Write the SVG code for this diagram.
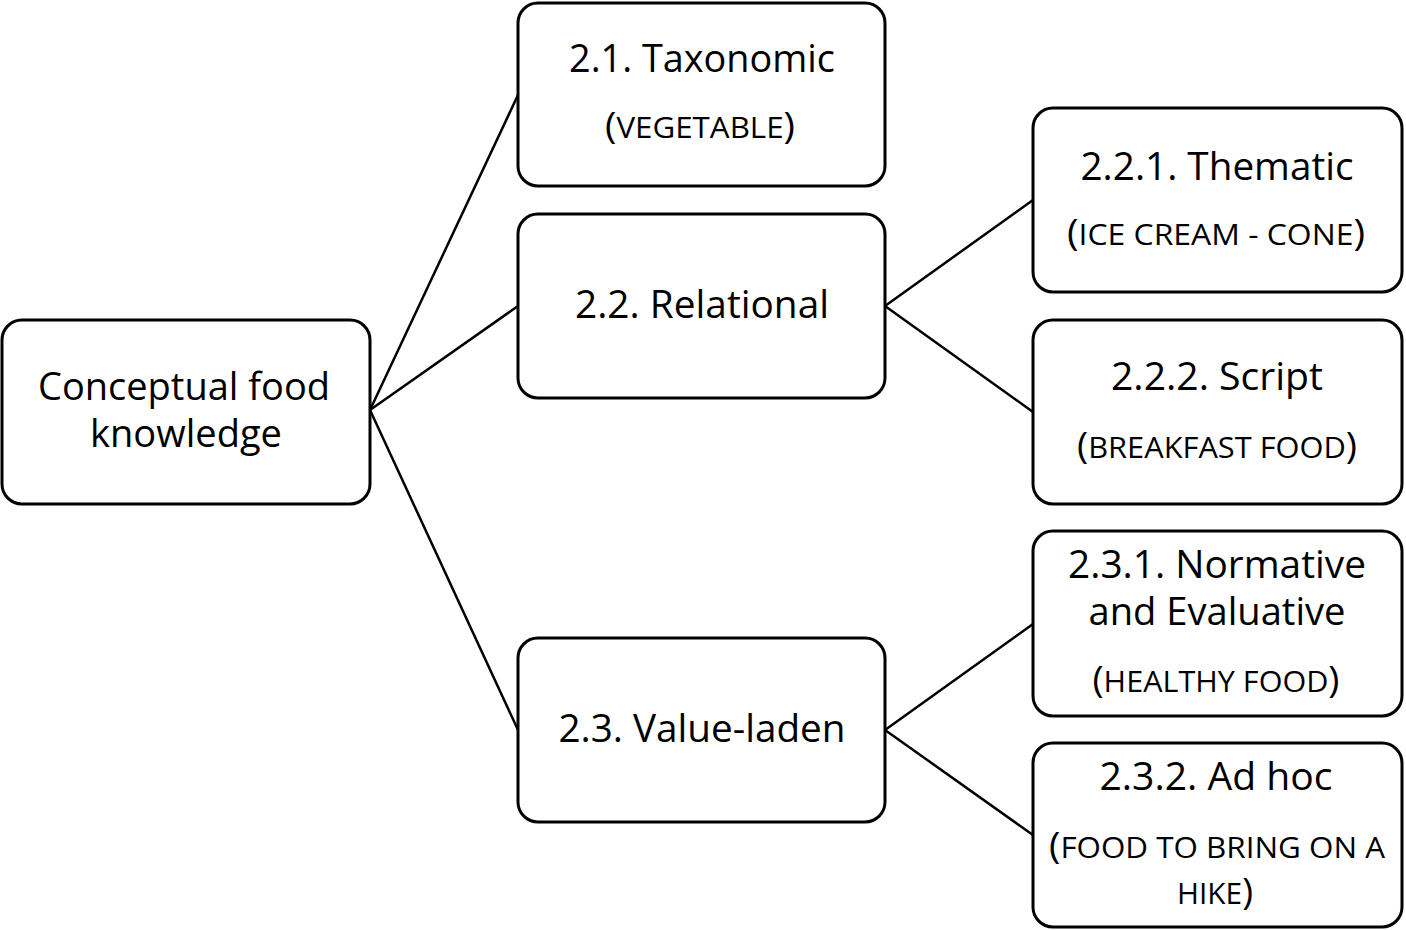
<svg xmlns="http://www.w3.org/2000/svg" width="1406" height="930" viewBox="0 0 1406 930">
<style>
.box{fill:#fff;stroke:#000;stroke-width:3}
.ln{stroke:#000;stroke-width:2.5;fill:none}
text{font-family:"Open Sans","Noto Sans","Liberation Sans",sans-serif;fill:#000;text-anchor:middle}
.t{font-size:38px}
.s{font-size:30px}
.p{font-size:37px}
</style>
<rect width="1406" height="930" fill="#fff"/>
<g id="connectors">
<line class="ln" x1="370" y1="410" x2="518" y2="95"/>
<line class="ln" x1="370" y1="410" x2="518" y2="306"/>
<line class="ln" x1="370" y1="410" x2="518" y2="730"/>
<line class="ln" x1="885" y1="306" x2="1033" y2="200"/>
<line class="ln" x1="885" y1="306" x2="1033" y2="412"/>
<line class="ln" x1="885" y1="730" x2="1033" y2="624"/>
<line class="ln" x1="885" y1="730" x2="1033" y2="835"/>
</g>
<g id="root">
<rect class="box" x="2" y="320" width="368" height="184" rx="20"/>
<text class="t" x="184" y="400" textLength="292" lengthAdjust="spacingAndGlyphs">Conceptual food</text>
<text class="t" x="186" y="447" textLength="192" lengthAdjust="spacingAndGlyphs">knowledge</text>
</g>
<g id="n21">
<rect class="box" x="518" y="3" width="367" height="183" rx="20"/>
<text class="t" x="702" y="72" textLength="266" lengthAdjust="spacingAndGlyphs">2.1. Taxonomic</text>
<text class="s" x="700" y="138" textLength="190" lengthAdjust="spacingAndGlyphs"><tspan class="p">(</tspan>VEGETABLE<tspan class="p">)</tspan></text>
</g>
<g id="n22">
<rect class="box" x="518" y="214" width="367" height="184" rx="20"/>
<text class="t" x="702" y="318" textLength="254" lengthAdjust="spacingAndGlyphs">2.2. Relational</text>
</g>
<g id="n23">
<rect class="box" x="518" y="638" width="367" height="184" rx="20"/>
<text class="t" x="702" y="742" textLength="287" lengthAdjust="spacingAndGlyphs">2.3. Value-laden</text>
</g>
<g id="n221">
<rect class="box" x="1033" y="108" width="369" height="184" rx="20"/>
<text class="t" x="1217" y="180" textLength="273" lengthAdjust="spacingAndGlyphs">2.2.1. Thematic</text>
<text class="s" x="1216" y="245" textLength="298" lengthAdjust="spacingAndGlyphs"><tspan class="p">(</tspan>ICE CREAM - CONE<tspan class="p">)</tspan></text>
</g>
<g id="n222">
<rect class="box" x="1033" y="320" width="369" height="184" rx="20"/>
<text class="t" x="1217" y="390" textLength="212" lengthAdjust="spacingAndGlyphs">2.2.2. Script</text>
<text class="s" x="1217" y="458" textLength="280" lengthAdjust="spacingAndGlyphs"><tspan class="p">(</tspan>BREAKFAST FOOD<tspan class="p">)</tspan></text>
</g>
<g id="n231">
<rect class="box" x="1033" y="531" width="369" height="185" rx="20"/>
<text class="t" x="1217" y="578" textLength="298" lengthAdjust="spacingAndGlyphs">2.3.1. Normative</text>
<text class="t" x="1217" y="625" textLength="257" lengthAdjust="spacingAndGlyphs">and Evaluative</text>
<text class="s" x="1216" y="692" textLength="247" lengthAdjust="spacingAndGlyphs"><tspan class="p">(</tspan>HEALTHY FOOD<tspan class="p">)</tspan></text>
</g>
<g id="n232">
<rect class="box" x="1033" y="743" width="369" height="184" rx="20"/>
<text class="t" x="1216" y="790" textLength="233" lengthAdjust="spacingAndGlyphs">2.3.2. Ad hoc</text>
<text class="s" x="1217" y="858" textLength="336" lengthAdjust="spacingAndGlyphs"><tspan class="p">(</tspan>FOOD TO BRING ON A</text>
<text class="s" x="1215" y="904" textLength="76" lengthAdjust="spacingAndGlyphs">HIKE<tspan class="p">)</tspan></text>
</g>
</svg>
